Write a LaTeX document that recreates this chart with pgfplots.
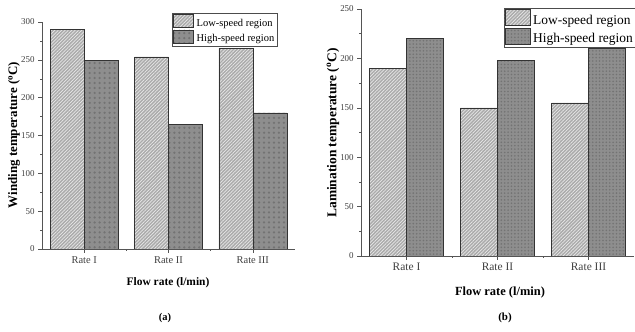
\documentclass[border=0pt]{standalone}
\usepackage{pgfplots}
\pgfplotsset{compat=1.18}
\usepackage{fontspec}
\setmainfont{Liberation Serif}
\usetikzlibrary{patterns.meta}

\definecolor{lowfill}{HTML}{ABABAB}
\definecolor{highfill}{HTML}{8E8E8E}
\definecolor{axisgray}{HTML}{555555}

\pgfplotsset{
  tempbars/.style={
    scale only axis,
    anchor=south west,
    ybar=0pt,
    xmin=-0.5, xmax=2.5,
    ymin=0,
    axis x line*=bottom,
    axis y line*=left,
    axis line style={axisgray, line width=0.6pt},
    tick align=outside,
    xtick={0,1,2},
    xticklabels={Rate I, Rate II, Rate III},
    minor xtick={0.5,1.5},
    major tick length=3.8pt,
    minor tick length=2pt,
    ytick distance=50,
    minor y tick num=1,
    every tick/.style={axisgray, line width=0.5pt},
    yticklabel style={font=\fontsize{9}{10}\selectfont, text=black!75},
    /pgf/number format/assume math mode=true,
    legend cell align=left,
    legend style={draw=black!70, line width=0.5pt,
      inner sep=1pt, row sep=0pt, column sep=1pt},
    every axis plot/.append style={draw=black!80, line width=0.4pt},
  },
  lowbar/.style={fill=lowfill,
    postaction={pattern={Lines[angle=45, distance=2.4pt, line width=0.7pt]}, pattern color=white!82!gray}},
}

\begin{document}
\begin{tikzpicture}
\path[use as bounding box] (0bp,0bp) rectangle (635bp,332bp);

% (a) winding temperature
\begin{axis}[tempbars,
  at={(42bp,83bp)}, width=253bp, height=227bp,
  ymax=300, bar width=34bp,
  xticklabel style={font=\fontsize{10.5}{11}\selectfont, text=black!75},
  legend style={at={(0.514,1.04)}, anchor=north west, font=\fontsize{10.5}{12}\selectfont},
  legend image code/.code={
    \draw[#1] (0bp,-4bp) rectangle (20bp,9bp);
  },
]
\addplot[lowbar] coordinates {(0,290) (1,254) (2,265)};
\addplot[fill=highfill,
  postaction={pattern={Dots[distance=5pt, radius=1.25pt]}, pattern color=black!55}]
  coordinates {(0,249) (1,165) (2,180)};
\legend{Low-speed region, High-speed region}
\end{axis}

% (b) lamination temperature
\begin{axis}[tempbars,
  at={(361bp,76bp)}, width=273bp, height=247bp,
  ymax=250, bar width=37bp,
  xticklabel style={font=\fontsize{11.5}{12}\selectfont, text=black!75},
  legend style={at={(0.522,1.004)}, anchor=north west, font=\fontsize{13.5}{15}\selectfont},
  legend image code/.code={
    \draw[#1] (0bp,-5bp) rectangle (25bp,11bp);
  },
]
\addplot[lowbar] coordinates {(0,190) (1,150) (2,155)};
\addplot[fill=highfill,
  postaction={pattern={Dots[distance=3.4pt, radius=0.9pt]}, pattern color=black!55}]
  coordinates {(0,220) (1,198) (2,210)};
\legend{Low-speed region, High-speed region}
\end{axis}

% axis titles and panel labels
\node[rotate=90, font=\bfseries\fontsize{13}{14}\selectfont] at (14bp,197bp) {Winding temperature (\textsuperscript{o}C)};
\node[font=\bfseries\fontsize{11.5}{12}\selectfont] at (168bp,49bp) {Flow rate (l/min)};
\node[font=\bfseries\fontsize{10.5}{11}\selectfont] at (165bp,14bp) {(a)};

\node[rotate=90, font=\bfseries\fontsize{13.5}{14}\selectfont] at (333bp,199bp) {Lamination temperature (\textsuperscript{o}C)};
\node[font=\bfseries\fontsize{12.5}{13}\selectfont] at (500bp,39bp) {Flow rate (l/min)};
\node[font=\bfseries\fontsize{11}{12}\selectfont] at (505bp,14bp) {(b)};
\end{tikzpicture}
\end{document}
